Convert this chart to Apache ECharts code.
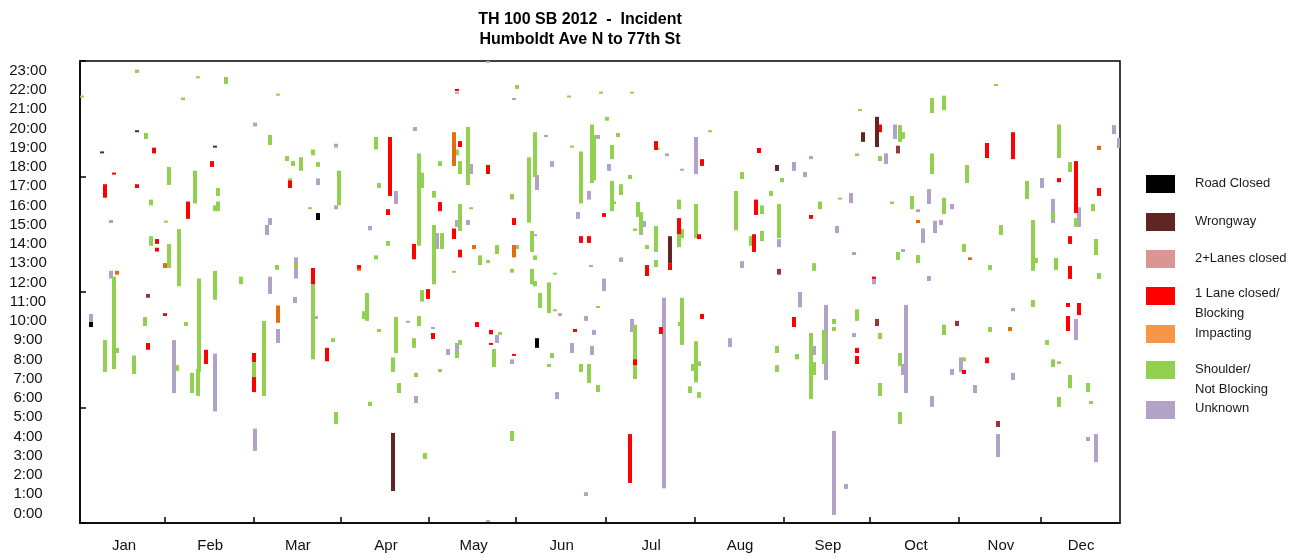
<!DOCTYPE html>
<html><head><meta charset="utf-8">
<script src="https://cdn.jsdelivr.net/npm/echarts@6/dist/echarts.min.js"></script>
<style>html,body{margin:0;padding:0;background:#fff}#c{width:1315px;height:558px}</style>
</head><body><div id="c"></div>
<script>
const titleLines = ['TH 100 SB 2012  -  Incident', 'Humboldt Ave N to 77th St'];
const hourLabels = ['0:00','1:00','2:00','3:00','4:00','5:00','6:00','7:00','8:00','9:00','10:00','11:00','12:00','13:00','14:00','15:00','16:00','17:00','18:00','19:00','20:00','21:00','22:00','23:00'];
const monthLabels = ['Jan','Feb','Mar','Apr','May','Jun','Jul','Aug','Sep','Oct','Nov','Dec'];
const monthLabelDays = [15.5, 45.8, 76.7, 107.7, 138.5, 169.5, 201, 232.3, 263.2, 294.2, 324.1, 352.3];
const monthTickDays = [29.7, 61, 91.6, 122.9, 153.2, 184.9, 216.2, 247.5, 278.1, 309.4, 338];

const typeNames = ['Road Closed','Wrongway','2+Lanes closed','1 Lane closed/\nBlocking','Impacting','Shoulder/\nNot Blocking','Unknown'];
const legendColors = ['#000000','#632523','#D99694','#FF0000','#F79646','#92D050','#B3A2C7'];
const barColors = ['#000000','#632523','#953735','#FF0000','#E46C0A','#92D050','#B3A2C7'];

// [day, start hour, end hour]
const roadClosed = [[83.8,15.74,16.1],[3.9,10.18,10.44],[160.8,9.1,9.6]];
const wrongway = [[20,20.3,20.4],[7.7,19.2,19.3],[47.5,19.5,19.6],[110.2,1.66,4.68],[207.6,13.5,14.9],[245.3,18.29,18.6],[280.5,19.53,21.1],[275.6,19.8,20.3]];
const twoLanes = [[24,11.7,11.9],[246,12.9,13.2],[287.9,19.2,19.6],[280.5,10.23,10.6],[308.8,10.23,10.5],[323,4.99,5.3]];
const oneLane = [[26,19.2,19.5],[46.5,18.5,18.8],[74,17.4,17.8],[12,18.1,18.2],[8.8,16.9,17.6],[20,17.4,17.6],[38,15.8,16.7],[27,14.5,14.75],[27,14.1,14.3],[82,12.4,13.25],[24,9.0,9.35],[30,10.75,10.9],[44.4,8.26,9.0],[61.2,8.36,8.83],[61.2,6.8,7.58],[87,8.4,9.1],[132.7,22.44,22.55],[109,16.99,20.05],[133.7,19.53,19.84],[143.6,18.13,18.6],[108.4,16.0,16.3],[126.7,16.2,16.67],[131.6,14.75,15.3],[117.5,13.7,14.5],[133.7,13.8,14.2],[98.2,13.2,13.4],[152.7,15.48,15.84],[176.3,14.55,14.9],[179,14.55,14.9],[122.5,11.64,12.15],[124.2,9.56,9.87],[139.7,10.18,10.44],[144.6,9.8,10.03],[144.6,9.25,9.35],[152.7,8.68,8.78],[174.2,9.92,10.08],[202.7,19.38,19.84],[219,18.55,18.9],[184.4,15.9,16.1],[199.5,12.83,13.4],[207.6,13.14,13.5],[210.8,15.0,15.84],[217.8,14.75,15.0],[239,19.22,19.48],[238,16.0,16.8],[237.2,14.08,15.0],[257.3,15.8,16.0],[195.3,8.2,8.5],[193.6,2.08,4.62],[204.5,9.82,10.18],[219,10.6,10.86],[251.3,10.18,10.7],[281.5,20.3,20.7],[319.2,18.96,19.74],[328.3,18.9,20.3],[350.5,16.1,18.8],[344.5,17.7,17.92],[358.6,16.99,17.4],[348.4,14.5,14.9],[348.4,12.68,13.35],[279.4,12.68,12.8],[273.5,8.83,9.1],[273.5,8.26,8.68],[311.1,7.74,7.95],[319.2,8.3,8.6],[347.7,11.22,11.43],[347.7,9.97,10.75],[351.6,10.8,11.43]];
const impacting = [[30,13.25,13.5],[13,12.9,13.1],[69.7,10.4,11.3],[131.6,18.55,20.3],[138.7,14.23,14.44],[98.2,13.1,13.2],[152.7,13.8,14.44],[358.6,19.38,19.6],[295,15.58,15.74],[313.2,13.66,13.8],[327.3,9.97,10.18]];
const shoulder = [[20,23.38,23.55],[41.5,23.1,23.2],[51.4,22.8,23.17],[0.7,22.1,22.2],[36.2,21.97,22.1],[69.7,22.2,22.3],[23.2,19.95,20.26],[66.9,19.64,20.16],[72.8,18.8,19.06],[75,18.55,18.8],[77.8,18.3,19.0],[82,19.1,19.4],[83.8,18.5,18.75],[31.3,17.56,18.5],[40.5,16.6,18.3],[48.6,16.99,17.4],[48.6,16.2,16.7],[47.5,16.2,16.5],[74,17.8,17.9],[91,16.5,18.3],[81,16.3,16.4],[25,16.5,16.8],[30.3,15.6,15.7],[25,14.4,14.9],[31.3,13.25,14.5],[35,12.3,15.27],[12,8.0,12.8],[42,7.85,12.7],[47.5,11.6,13.1],[56.6,12.4,12.8],[76,13.25,13.45],[69.3,13.15,13.4],[82,8.5,12.4],
[8.8,7.84,9.5],[13,8.83,9.1],[19,7.74,8.7],[23,10.23,10.7],[34,7.9,8.2],[37.4,10.23,10.44],[39.4,6.75,7.8],[41.5,6.6,8.0],[61.2,7.58,8.36],[64.8,6.6,10.5],[89,9.4,9.6],[90,5.14,5.77],
[153.8,22.55,22.75],[172,22.1,22.2],[104,19.4,20.05],[132.7,19.1,19.4],[136.5,17.56,20.57],[133.7,18.13,18.8],[126.7,18.55,18.8],[119.3,14.4,19.2],[120.4,17.4,18.2],[105.2,17.4,17.66],[124.6,16.9,17.25],[133.7,15.17,16.57],[137.6,16.3,16.4],[108.4,14.4,14.65],[124.6,12.4,15.48],[127.4,14.23,15.06],[104.2,13.7,13.9],[140.8,13.4,13.9],[143.6,13.5,13.66],[146.8,13.97,14.44],[153.8,14.23,14.44],[152,16.8,17.1],[131.6,13.0,13.1],[152,13.0,13.2],[158,15.6,19.0],[160,17.97,20.3],[173,19.5,19.6],[176.3,16.6,19.3],[180.2,17.66,20.7],[181,17.8,20.16],[159,14.08,15.17],[160,13.66,13.9],[159,12.4,13.2],[160,12.3,12.57],[167,12.9,13.0],[165,10.9,12.5],[162,11.17,11.95],[101,10.5,11.95],[100,10.6,11.0],[120.4,11.5,12.1],
[105.2,9.92,10.08],[111.2,8.83,10.7],[110.2,7.84,8.6],[112.3,6.75,7.27],[102,6.08,6.3],[119.3,10.23,10.75],[117.5,9.1,9.6],[118.3,7.58,7.8],[121.4,3.32,3.64],[126.7,7.84,8.0],[132.7,8.57,8.94],[133.7,9.25,9.5],[147.8,9.77,9.92],[145.7,8.1,9.04],[152,4.26,4.78],[167.2,11.0,11.1],[166,8.57,8.83],[165,8.1,8.26],[176.3,7.84,8.26],[179,7.27,8.26],
[183.4,22.3,22.4],[194.3,22.3,22.4],[185.5,20.9,21.1],[189.3,20.05,20.26],[187.2,18.9,19.64],[193.6,17.87,18.08],[203.4,19.4,19.5],[221.7,20.3,20.4],[187.2,16.2,17.77],[188,16.57,16.7],[190.4,17.04,17.6],[196.4,15.9,16.67],[197.4,15.06,16.15],[195.3,15.17,15.3],[199.5,14.23,14.44],[202.7,14.08,15.43],[202.7,13.3,13.66],[210.8,14.33,15.0],[212,14.8,15.27],[210.8,16.3,16.8],[216.8,14.8,16.57],[231,15.2,17.25],[233,17.87,18.23],[247,17.7,17.92],[243.2,16.99,17.25],[267.5,16.8,16.9],[240,16.05,16.5],[240,14.65,15.17],[236.2,14.4,14.9],[246,14.8,16.57],[260.4,16.3,16.7],[258.3,13.1,13.5],
[182.3,11.17,11.27],[182.3,6.8,7.17],[195.3,7.48,10.3],[212,9.25,11.7],[211,10.23,10.44],[216.8,7.3,9.45],[215.7,7.9,8.26],[217.8,8.16,8.4],[214.7,6.75,7.1],[217.8,6.5,6.8],[245.3,8.83,9.2],[245.3,7.84,8.2],[252.3,8.5,8.78],[257.3,6.44,9.87],[258.3,7.69,8.36],[261.8,8.26,10.03],[265.4,10.34,10.6],[265.4,9.97,10.18],
[322.4,22.7,22.8],[274.5,21.4,21.5],[299.8,21.3,22.08],[304,21.45,22.2],[288.6,19.8,20.67],[289.7,19.95,20.3],[281.5,18.8,19.06],[273.5,19.06,19.2],[299.8,18.13,19.2],[312.2,17.66,18.6],[344.5,18.96,20.7],[348.4,18.23,18.75],[333.3,16.83,17.77],[285.8,16.57,16.7],[292.8,16.3,16.99],[304,16.05,16.9],[324,14.96,15.48],[342.4,15.74,16.15],[350.5,15.38,15.84],[356.5,16.2,16.57],[335.4,13.1,15.74],[336.4,13.5,13.77],[357.6,13.92,14.75],[287.9,13.66,14.08],[295,13.5,13.92],[311.1,14.08,14.5],[320.3,13.14,13.4],[343.5,13.14,13.77],[358.6,12.68,12.99],
[273.5,10.5,11.1],[281.5,9.56,9.87],[281.5,6.6,7.27],[288.6,8.16,8.83],[288.6,5.14,5.77],[304,9.77,10.3],[311.1,8.4,8.6],[320.3,9.92,10.18],[335.4,11.22,11.58],[340.3,9.25,9.5],[342.4,8.1,8.5],[344.5,8.26,8.4],[344.5,6.03,6.55],[348.4,7.0,7.69],[354.7,6.8,7.27],[355.7,6.18,6.34]];
const unknown = [[61.6,20.6,20.8],[90,19.5,19.7],[83.8,17.56,17.9],[90,16.3,16.5],[11,15.58,15.74],[67,15.48,15.84],[65.8,14.96,15.48],[11,12.7,13.1],[67,11.9,12.8],[76,12.7,13.8],[3.9,10.44,10.86],[33,6.75,9.5],[47.5,5.8,8.8],[61.6,3.74,4.9],[69.7,9.35,10.08],[75.8,11.43,11.74],[83,10.6,10.75],
[143.6,23.9,24.0],[143.6,0.05,0.15],[132.7,22.3,22.4],[152.7,21.97,22.08],[118,20.36,20.57],[137.6,18.13,18.65],[111.2,16.57,17.25],[132.7,15.38,15.74],[136.5,15.48,15.74],[102,15.2,15.43],[125.7,14.23,15.06],[160.8,17.3,18.08],[164,20.05,20.16],[166,18.5,18.8],[175.3,15.8,16.15],[179,16.8,17.25],[160,14.9,15.0],[180,13.3,13.4],[115.4,10.4,10.5],[118.3,6.23,6.6],[124.2,10.08,10.18],[129.5,8.73,9.04],[132.7,8.94,9.35],[146.8,9.35,9.77],[152,8.26,8.5],[169,10.75,10.9],[168,6.44,6.8],[178,10.5,10.75],[173,8.83,9.35],[180.2,8.73,9.2],[181,9.77,10.03],[178,1.4,1.6],
[182.3,19.95,20.16],[186.2,18.29,18.65],[206.6,19.06,19.2],[212,18.3,18.4],[216.8,18.13,20.05],[198.5,15.38,15.69],[197.4,14.96,15.06],[190.4,13.56,13.8],[184.4,12.05,12.7],[251.3,18.29,18.75],[255.2,17.97,18.23],[257.3,18.9,19.06],[271.3,16.62,17.14],[246,14.33,14.75],[266.4,15.06,15.43],[233,13.25,13.6],[253.4,11.2,12.0],[194.3,9.92,10.6],[205.5,1.8,11.7],[228.8,9.14,9.6],[258.3,8.73,9.2],[262.5,7.43,11.33],[265.4,0.42,4.78],[269.6,1.77,2.03],
[286.8,19.95,20.7],[283.6,18.65,19.2],[364,20.2,20.67],[365.7,19.48,20.0],[338.6,17.4,17.92],[298.8,16.57,17.35],[306.9,16.3,16.57],[295,16.15,16.3],[296.7,14.55,15.3],[301,15.06,15.7],[303,15.48,15.74],[342.4,15.58,16.83],[351.6,15.38,16.4],[272.4,13.92,14.08],[289.7,14.08,14.23],[279.4,12.4,12.68],[298.8,12.57,12.83],[272.4,9.66,9.87],[290.7,6.75,11.33],[289.7,7.69,8.26],[299.8,6.03,6.6],[306.9,7.69,8.0],[310,7.84,8.6],[314.9,6.75,7.17],[328.3,11.0,11.17],[328.3,7.43,7.8],[323,3.43,4.62],[350.5,9.5,10.6],[354.7,4.26,4.47],[357.6,3.17,4.62]];

const seriesData = [roadClosed, wrongway, twoLanes, oneLane, impacting, shoulder, unknown];
const drawOrder = [6, 5, 4, 3, 2, 1, 0];

const FONT = 'Liberation Sans, Arial, sans-serif';
const chart = echarts.init(document.getElementById('c'), null, { renderer: 'canvas' });

function renderBar(params, api) {
  const d = api.value(0);
  const p0 = api.coord([d, api.value(1)]);
  const p1 = api.coord([d, api.value(2)]);
  const h = Math.max(p0[1] - p1[1], 2);
  return {
    type: 'rect',
    shape: { x: Math.round(p0[0] - 2), y: p0[1] - h, width: 4, height: h },
    style: { fill: api.visual('color') }
  };
}

const series = drawOrder.map(i => ({
  type: 'custom',
  name: typeNames[i],
  renderItem: renderBar,
  data: seriesData[i],
  encode: { x: 0, y: [1, 2] },
  itemStyle: { color: barColors[i] },
  clip: true,
  silent: true,
  animation: false
}));

const legendTops = [175, 213, 250, 287, 325, 361, 401];
const legendTextTops = [173, 211, 248, 283, 323, 359, 398];
const legendGraphics = [];
typeNames.forEach((n, i) => {
  legendGraphics.push({ type: 'rect', shape: { x: 1146, y: legendTops[i], width: 29, height: 18 }, style: { fill: legendColors[i] } });
  legendGraphics.push({ type: 'text', x: 1195, y: legendTextTops[i], style: { text: n, fill: '#1a1a1a', font: '13px ' + FONT, lineHeight: 20, textAlign: 'left', textVerticalAlign: 'top' } });
});

const monthMap = {};
monthLabelDays.forEach((v, i) => { monthMap[v] = monthLabels[i]; });

chart.setOption({
  backgroundColor: '#ffffff',
  animation: false,
  grid: { left: 80, top: 61, width: 1040, height: 462, show: true, borderColor: '#000', borderWidth: 1.5, backgroundColor: 'transparent' },
  xAxis: [{
    type: 'value', min: 0, max: 366,
    axisLine: { show: true, lineStyle: { color: '#000', width: 1.5 } },
    axisTick: { show: true, inside: true, length: 6, lineStyle: { color: '#000', width: 1.5 }, customValues: monthTickDays },
    axisLabel: { show: true, customValues: monthLabelDays, formatter: v => monthMap[v] || '', color: '#111', fontSize: 15, fontFamily: FONT, margin: 15 },
    splitLine: { show: false }
  }],
  yAxis: [{
    type: 'value', min: 0, max: 24, interval: 6,
    axisLine: { show: true, lineStyle: { color: '#000', width: 1.5 } },
    axisTick: { show: true, inside: true, length: 6, lineStyle: { color: '#000', width: 1.5 } },
    axisLabel: { show: false },
    splitLine: { show: false }
  }, {
    type: 'category', data: hourLabels, position: 'left',
    axisLine: { show: false }, axisTick: { show: false }, splitLine: { show: false },
    axisLabel: { interval: 0, align: 'center', margin: 52, color: '#111', fontSize: 15, fontFamily: FONT }
  }],
  graphic: [{
    type: 'text', x: 580, y: 10,
    style: { text: titleLines.join('\n'), font: 'bold 16px ' + FONT, fill: '#000', lineHeight: 20, textAlign: 'center', textVerticalAlign: 'top' }
  }].concat(legendGraphics),
  series: series
});
</script>
</body></html>
